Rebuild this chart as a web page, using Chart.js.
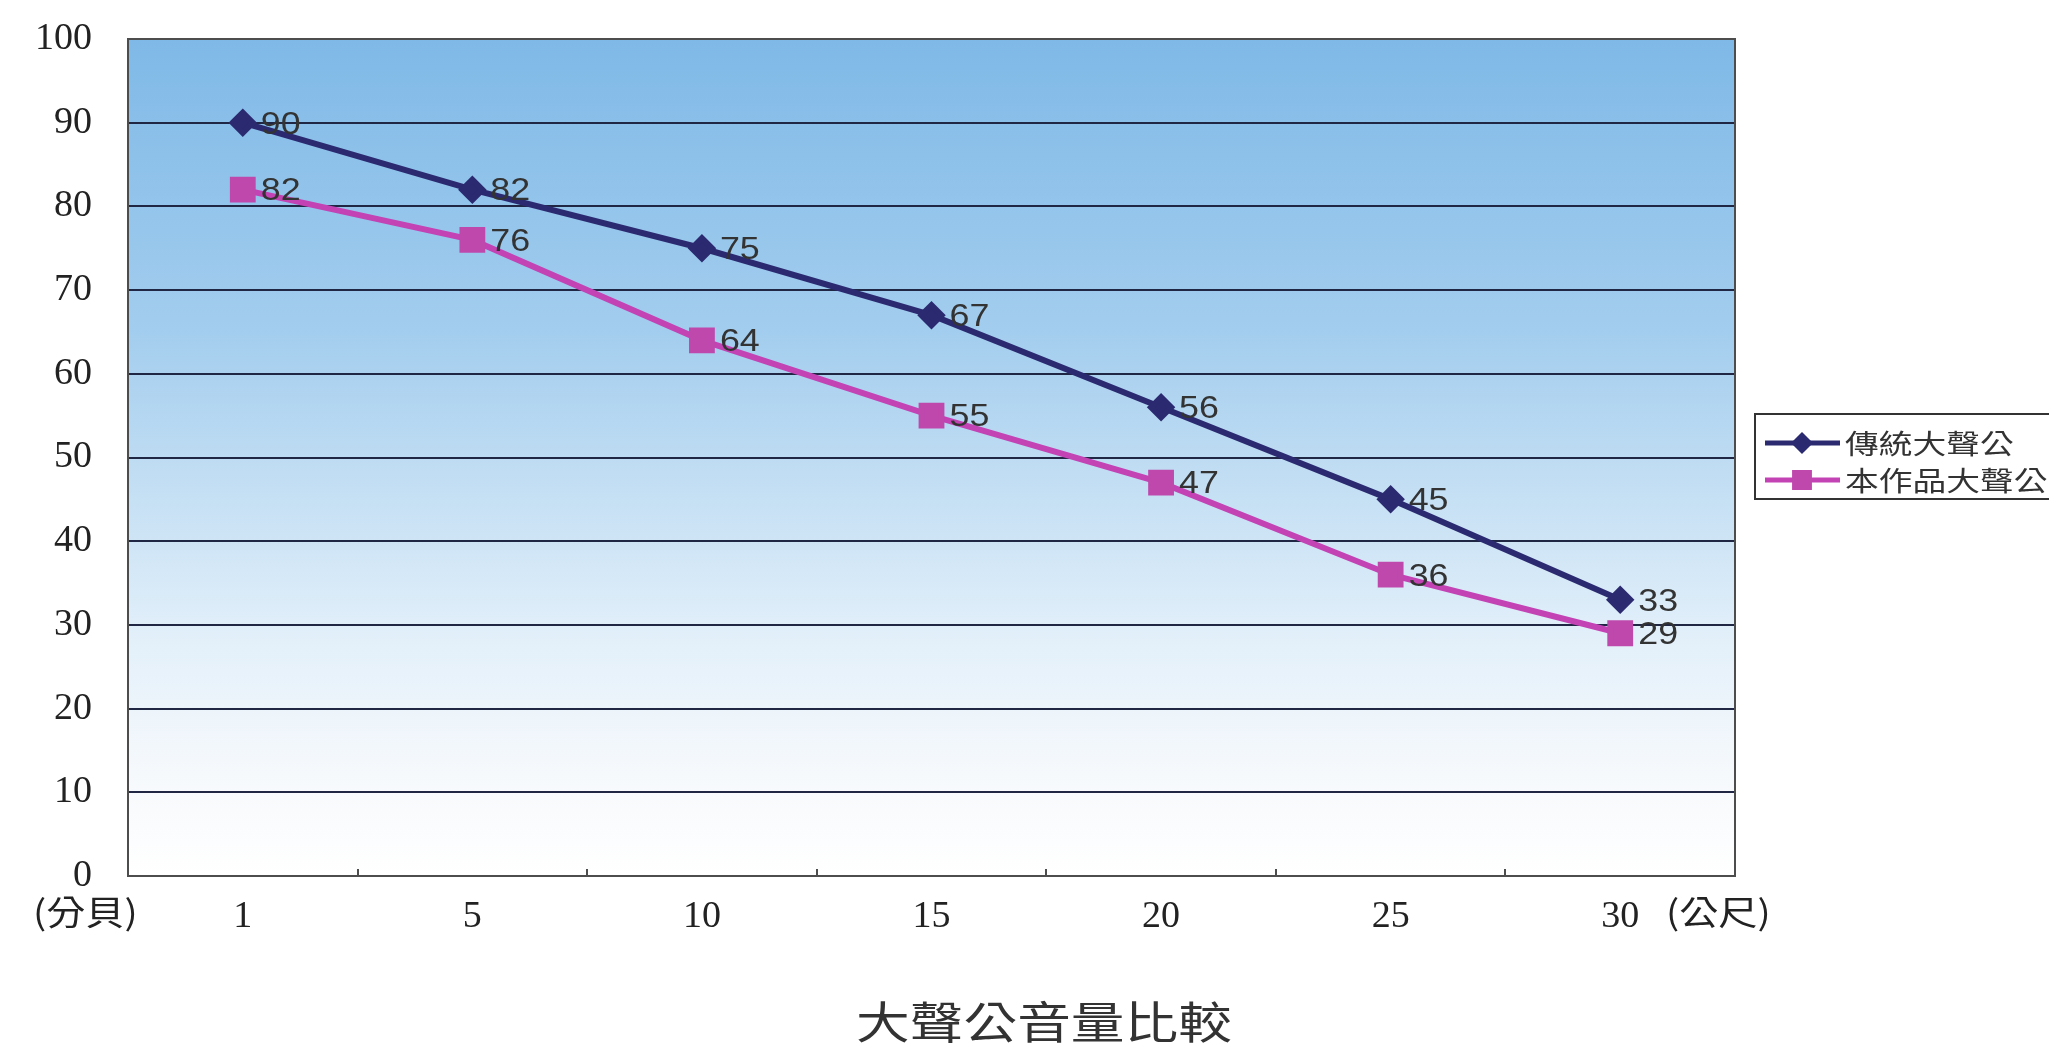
<!DOCTYPE html>
<html>
<head>
<meta charset="utf-8">
<script src="https://cdn.jsdelivr.net/npm/chart.js@4"></script>
<style>
  html, body { margin: 0; padding: 0; background: #fff; }
</style>
</head>
<body>
<canvas id="myChart" width="2049" height="1053"></canvas>
<script>
// distance (m) on x, loudness (dB) on y
const distances = ['1', '5', '10', '15', '20', '25', '30'];
const seriesNames = ['傳統大聲公', '本作品大聲公'];
const traditional = [90, 82, 75, 67, 56, 45, 33];
const ours = [82, 76, 64, 55, 47, 36, 29];
const yMin = 0;
const yMax = 100;
const yStep = 10;
const chartTitle = '大聲公音量比較';
const unitY = '(分貝)';
const unitX = '(公尺)';

const serif = '"Liberation Serif", "Times New Roman", serif';
const cjk = '"Noto Sans CJK TC", "Noto Sans CJK SC", sans-serif';

// text drawn a bit wider than the font's own width
function wideText(ctx, text, x, y, sx) {
  ctx.save();
  ctx.translate(x, y);
  ctx.scale(sx, 1);
  ctx.fillText(text, 0, 0);
  ctx.restore();
}

//plot area gradient
const plotBackground = {
  id: 'plotBackground',
  beforeDraw(chart) {
    const {ctx, chartArea: {left, top, right, bottom}} = chart;
    const g = ctx.createLinearGradient(0, top, 0, bottom);
    g.addColorStop(0, '#7fb9e7');
    g.addColorStop(0.35, '#a3cdee');
    g.addColorStop(0.55, '#c6e0f4');
    g.addColorStop(0.72, '#e3f0fa');
    g.addColorStop(0.88, '#f6f9fc');
    g.addColorStop(1, '#ffffff');
    ctx.save();
    ctx.fillStyle = g;
    ctx.fillRect(left, top, right - left, bottom - top);
    ctx.restore();
  }
};

//frame + short ticks between categories
const plotFrame = {
  id: 'plotFrame',
  beforeDatasetsDraw(chart) {
    const {ctx, chartArea: {left, top, right, bottom}} = chart;
    const x = chart.scales.x;
    ctx.save();
    ctx.strokeStyle = '#4d4d4d';
    ctx.lineWidth = 2;
    ctx.strokeRect(left, top, right - left, bottom - top);
    ctx.beginPath();
    for (let i = 1; i < distances.length; i++) {
      const px = Math.round((x.getPixelForTick(i - 1) + x.getPixelForTick(i)) / 2);
      ctx.moveTo(px, bottom);
      ctx.lineTo(px, bottom - 7);
    }
    ctx.stroke();
    ctx.restore();
  }
};

//value next to every point
const pointLabels = {
  id: 'pointLabels',
  afterDatasetsDraw(chart) {
    const ctx = chart.ctx;
    ctx.save();
    ctx.font = '32px "Liberation Sans", Arial, sans-serif';
    ctx.fillStyle = '#333';
    ctx.textAlign = 'left';
    ctx.textBaseline = 'middle';
    chart.data.datasets.forEach((ds, i) => {
      chart.getDatasetMeta(i).data.forEach((pt, j) => {
        wideText(ctx, String(ds.data[j]), pt.x + 18, pt.y + 2, 1.12);
      });
    });
    ctx.restore();
  }
};

//units, bottom title and boxed legend
const extraText = {
  id: 'extraText',
  afterDraw(chart) {
    const ctx = chart.ctx;
    ctx.save();
    ctx.fillStyle = '#222';
    ctx.textBaseline = 'middle';
    ctx.textAlign = 'left';
    ctx.font = '34px ' + cjk;
    wideText(ctx, unitY, 33, 912, 1.15);
    wideText(ctx, unitX, 1666, 912, 1.15);

    ctx.font = '44px ' + cjk;
    ctx.fillStyle = '#333';
    ctx.textAlign = 'center';
    wideText(ctx, chartTitle, 1044, 1022, 1.22);

    // legend
    ctx.fillStyle = '#fff';
    ctx.fillRect(1755, 414, 320, 85);
    ctx.strokeStyle = '#333';
    ctx.lineWidth = 2;
    ctx.strokeRect(1755, 414, 320, 85);
    ctx.font = '27px ' + cjk;
    ctx.textAlign = 'left';
    chart.data.datasets.forEach((ds, i) => {
      const y = 443 + i * 37;
      ctx.strokeStyle = ds.borderColor;
      ctx.lineWidth = 5;
      ctx.beginPath();
      ctx.moveTo(1765, y);
      ctx.lineTo(1840, y);
      ctx.stroke();
      ctx.fillStyle = ds.pointBackgroundColor;
      ctx.strokeStyle = ds.pointBorderColor;
      Chart.helpers.drawPoint(ctx, {
        pointStyle: ds.pointStyle,
        radius: ds.pointRadius * 0.75,
        rotation: 0,
        borderWidth: 1
      }, 1802, y);
      ctx.fillStyle = '#333';
      wideText(ctx, ds.label, 1845, y + 1, 1.25);
    });
    ctx.restore();
  }
};

const data = {
  labels: distances,
  datasets: [
    {
      label: seriesNames[0],
      data: traditional,
      borderColor: '#2b2a70',
      backgroundColor: '#2b2a70',
      pointBackgroundColor: '#2b2a70',
      pointBorderColor: '#2b2a70',
      borderWidth: 6,
      pointStyle: 'rectRot',
      pointRadius: 10,
      tension: 0
    },
    {
      label: seriesNames[1],
      data: ours,
      borderColor: '#c342b4',
      backgroundColor: '#c342b4',
      pointBackgroundColor: '#bf48ad',
      pointBorderColor: '#bf48ad',
      borderWidth: 6,
      pointStyle: 'rect',
      pointRadius: 14,
      tension: 0
    }
  ]
};

const options = {
  responsive: false,
  animation: false,
  layout: {
    autoPadding: false,
    padding: {top: 39, right: 314, left: 0, bottom: 0}
  },
  plugins: {
    legend: {display: false},
    title: {display: false},
    tooltip: {enabled: false}
  },
  scales: {
    x: {
      offset: true,
      grid: {display: false, offset: true},
      border: {display: false},
      ticks: {
        padding: 10,
        color: '#222',
        font: {family: serif, size: 38}
      },
      afterFit: (s) => { s.height = 177; }
    },
    y: {
      min: yMin,
      max: yMax,
      grid: {color: '#1f2745', lineWidth: 2, drawTicks: false},
      border: {display: false},
      ticks: {
        stepSize: yStep,
        padding: 36,
        color: '#222',
        font: {family: serif, size: 38}
      },
      // tick padding is meant horizontally only, not above the top label
      afterFit: (s) => { s.width = 128; s.paddingTop = 0; }
    }
  }
};

new Chart(
  document.getElementById('myChart'),
  {type: 'line', data, options, plugins: [plotBackground, plotFrame, pointLabels, extraText]}
);
</script>
</body>
</html>
